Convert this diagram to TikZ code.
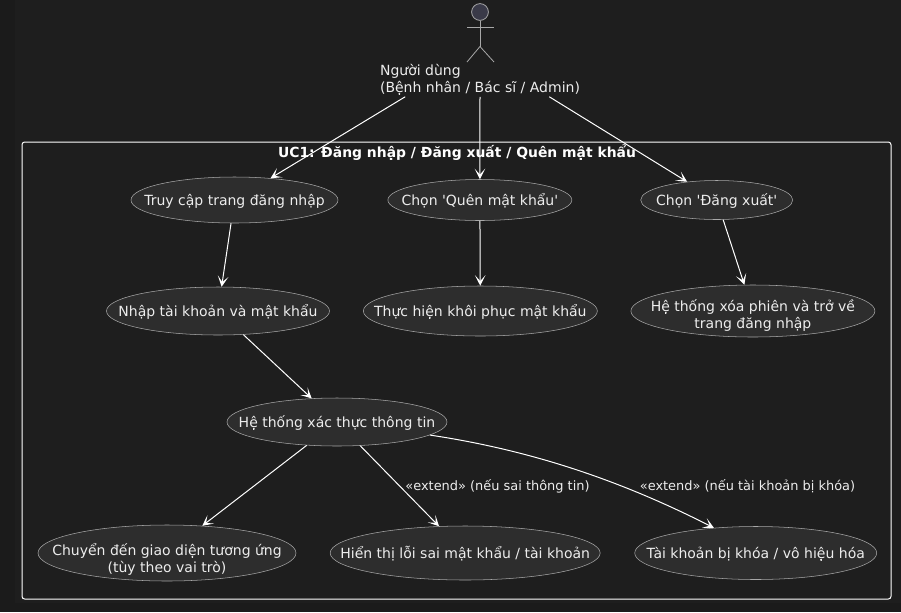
\documentclass[tikz,border=0pt]{standalone}
\usepackage{fontspec}
\setmainfont{DejaVu Sans}
\usetikzlibrary{positioning,arrows.meta,shapes.geometric}
\definecolor{pagebg}{HTML}{1B1B1B}
\definecolor{diagbg}{HTML}{1E1E1E}
\definecolor{ucfill}{HTML}{2D2D2D}
\definecolor{ucline}{HTML}{A8A8A8}
\definecolor{uctext}{HTML}{EDEDED}
\definecolor{headfill}{HTML}{3A3A48}
\tikzset{
  usecase/.style 2 args={ellipse,draw=ucline,fill=ucfill,text=uctext,inner sep=-25pt,align=center,
    text height=9pt,text depth=1.5pt,
    font=\fontsize{10.5pt}{12.3pt}\selectfont,minimum width=#1*0.75pt,minimum height=#2*0.75pt},
  flow/.style={draw=white,line width=0.75pt,-{Stealth[length=8pt,width=8pt,inset=4.5pt]}},
  stick/.style={draw=ucline,line width=0.6pt},
  extlabel/.style={text=uctext,inner sep=0pt,font=\fontsize{9.7pt}{12pt}\selectfont}
}
\begin{document}
\begin{tikzpicture}[x=0.75pt,y=-0.75pt]
  \useasboundingbox[fill=pagebg] (0,0) rectangle (901,612);
  \fill[diagbg] (15,0) rectangle (901,603);
  % actor
  \node[circle,draw=ucline,fill=headfill,line width=0.6pt,inner sep=0pt,minimum size=12.6pt] (head) at (480,12) {};
  \coordinate (hip) at (480,46.5);
  \coordinate (armL) at (467,27);
  \coordinate (armR) at (494,27);
  \coordinate (footL) at (467,62);
  \coordinate (footR) at (494,62);
  \draw[stick] (head) -- (hip);
  \draw[stick] (armL) -- (armR);
  \draw[stick] (footL) -- (hip) -- (footR);
  \node[text=uctext,inner sep=0pt,align=left,minimum height=25.5pt,
    font=\fontsize{10.5pt}{12.75pt}\selectfont] (user) at (480,79.5) {Người dùng\\(Bệnh nhân / Bác sĩ / Admin)};
  % frame
  \node[draw=white,line width=0.75pt,rounded corners=2pt,inner sep=0pt,minimum width=651.75pt,minimum height=342.75pt] (frame) at (456.5,370.5) {};
  \node[text=white,inner sep=0pt,font=\bfseries\fontsize{10.43pt}{12pt}\selectfont] (title) at (457,152.5) {UC1: Đăng nhập / Đăng xuất / Quên mật khẩu};
  % top row
  \node[usecase={207}{46}] (access) at (234.5,200) {Truy cập trang đăng nhập};
  \node[usecase={184}{41},right=37pt of access] (forgot) {Chọn \textquotesingle Quên mật khẩu\textquotesingle};
  \node[usecase={152}{39},right=51.25pt of forgot] (logout) {Chọn \textquotesingle Đăng xuất\textquotesingle};
  % second row
  \node[usecase={223}{48}] (enter) at (218,311) {Nhập tài khoản và mật khẩu};
  \node[usecase={234}{50},right=25pt of enter] (recover) {Thực hiện khôi phục mật khẩu};
  \node[usecase={244}{52},right=24.75pt of recover,text height=27pt] (clear) {Hệ thống xóa phiên và trở về\\trang đăng nhập};
  % verify + outcomes
  \node[usecase={220}{48}] (verify) at (337,422) {Hệ thống xác thực thông tin};
  \node[usecase={258}{56},text height=30pt] (redirect) at (167,553) {Chuyển đến giao diện tương ứng\\(tùy theo vai trò)};
  \node[usecase={270}{54},right=25.25pt of redirect] (wrong) {Hiển thị lỗi sai mật khẩu / tài khoản};
  \node[usecase={242}{53},right=25.5pt of wrong] (locked) {Tài khoản bị khóa / vô hiệu hóa};

  \draw[flow] (user.193.5) -- (access);
  \draw[flow] (user.south) -- (forgot);
  \draw[flow] (user.346.5) -- (logout);
  \draw[flow] (access) -- (enter);
  \draw[flow] (forgot) -- (recover);
  \draw[flow] (logout) -- (clear);
  \draw[flow] (enter) -- (verify);
  \draw[flow] (verify) -- (redirect);
  \draw[flow] (verify) -- (wrong);
  \draw[flow] (verify.-8) .. controls (530,450) and (620,480) .. (locked.149);
  \node[extlabel] (extwrong) at (497.5,486) {«extend» (nếu sai thông tin)};
  \node[extlabel] (extlocked) at (747.5,486) {«extend» (nếu tài khoản bị khóa)};
\end{tikzpicture}
\end{document}
